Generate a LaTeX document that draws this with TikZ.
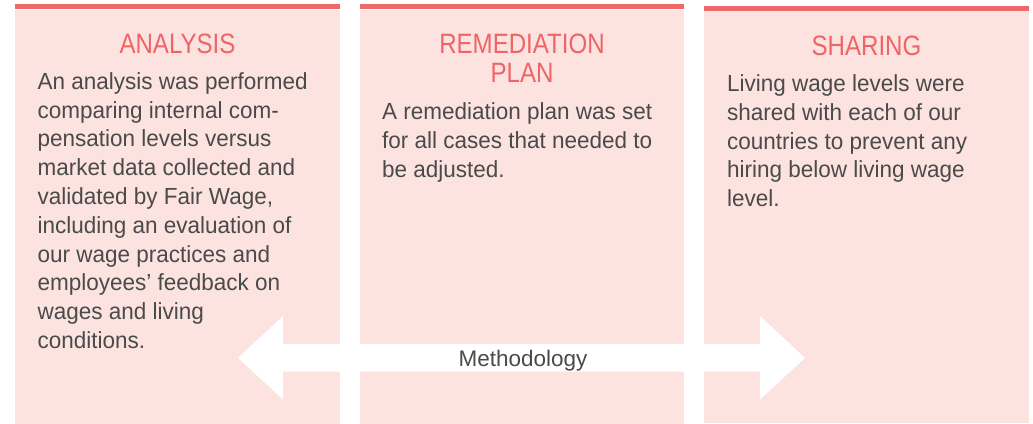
\documentclass[tikz,border=0pt]{standalone}
\usepackage{fontspec}
\setmainfont{Liberation Sans}
\newfontfamily\titlefont[FakeStretch=0.86]{Liberation Sans}
\newfontfamily\bodyfont[FakeStretch=0.965]{Liberation Sans}
\usepackage{tikz}
\usetikzlibrary{positioning}
\usepackage{xcolor}
\definecolor{panelpink}{HTML}{FCE3E0}
\definecolor{barred}{HTML}{EE6A69}
\definecolor{titlered}{HTML}{EF6466}
\definecolor{bodygray}{HTML}{4A4A4A}

\begin{document}
\begin{tikzpicture}[
    x=1pt, y=-1pt,
    panel/.style={rectangle, fill=panelpink, anchor=north west, inner sep=0pt, minimum width=325pt, minimum height=414pt},
    bar/.style={fill=barred},
    heading/.style={anchor=base, inner sep=0pt, align=center, text=titlered, font=\titlefont\fontsize{28}{29}\selectfont},
    body/.style={anchor=base west, inner sep=0pt, align=left, text=bodygray, font=\bodyfont\fontsize{23.3}{28.8}\selectfont},
    method/.style={anchor=base, inner sep=0pt, text=bodygray, font=\fontsize{22.5}{24}\selectfont}
]
    \useasboundingbox (0,0) rectangle (1033,423);

    % Panels with their top bars
    \node[panel] (analysis) at (15,9.3) {};
    \fill[bar] (15,4) rectangle (340,9.3);
    \node[panel, minimum width=324pt] (remedy) at (360,9.3) {};
    \fill[bar] (360,4) rectangle (684,9.3);
    \node[panel, minimum width=325pt, minimum height=412.3pt] (sharing) at (704,10.7) {};
    \fill[bar] (704,6) rectangle (1029,10.7);

    % Headings (anchored on the last line)
    \node[heading] (analysisTitle) at (177.5,53.3) {ANALYSIS};
    \node[heading] (remedyTitle) at (522,82.3) {REMEDIATION\\PLAN};
    \node[heading] (sharingTitle) at (866.5,55.5) {SHARING};

    % Texts (anchored on the last line)
    \node[body] (analysisText) at (37.5,348.5) {An analysis was performed\\
    comparing internal com-\\
    pensation levels versus\\
    market data collected and\\
    validated by Fair Wage,\\
    including an evaluation of\\
    our wage practices and\\
    employees’ feedback on\\
    wages and living\\
    conditions.};
    \node[body] (remedyText) at (382,177) {A remediation plan was set\\
    for all cases that needed to\\
    be adjusted.};
    \node[body] (sharingText) at (727,206.7) {Living wage levels were\\
    shared with each of our\\
    countries to prevent any\\
    hiring below living wage\\
    level.};

    % Methodology arrow
    \coordinate (leftTip) at (238,358);
    \coordinate (rightTip) at (805,358);
    \fill[white] (leftTip) -- (283,316) -- (283,344) -- (760,344) -- (760,316) -- (rightTip)
        -- (760,399.5) -- (760,371.5) -- (283,371.5) -- (283,399.5) -- cycle;
    \node[method] (methodology) at (523,366) {Methodology};
\end{tikzpicture}
\end{document}
